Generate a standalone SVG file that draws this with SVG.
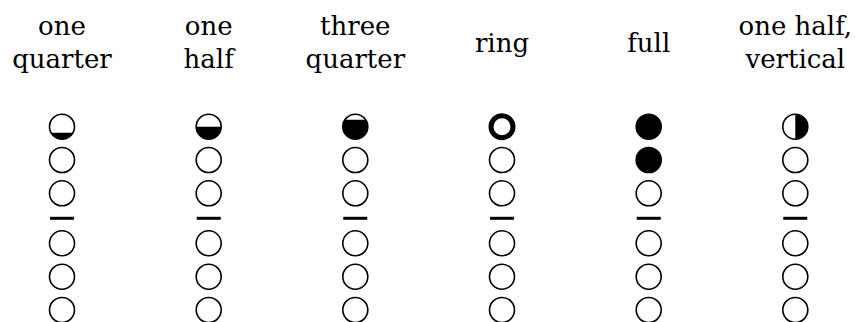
<svg xmlns="http://www.w3.org/2000/svg" xmlns:xlink="http://www.w3.org/1999/xlink" width="855" height="322" viewBox="0 0 855 322">
<style>
text{font-family:"DejaVu Serif","Liberation Serif",serif;font-size:26px;fill:#000;text-anchor:middle}
.h{fill:#fff;stroke:#000;stroke-width:1.6}
.hf{fill:#000;stroke:#000;stroke-width:1.6}
.fill{fill:#000}
.ring{fill:#fff;stroke:#000;stroke-width:5}
.bar{fill:#000}
</style>
<defs>
<circle id="hole" class="h" r="12.5"/>
<g id="lower">
<use href="#hole" y="160"/>
<use href="#hole" y="193.3"/>
<rect class="bar" x="-12" y="216.8" width="24" height="3"/>
<use href="#hole" y="243.3"/>
<use href="#hole" y="276.7"/>
<use href="#hole" y="310"/>
</g>
</defs>
<rect width="855" height="322" fill="#fff"/>
<g id="col-one-quarter" transform="translate(62,0)">
<text x="0" y="35">one</text>
<text x="0" y="68">quarter</text>
<use href="#hole" y="126.7"/>
<path class="fill" d="M-10.97,132.7 A12.5,12.5 0 0 0 10.97,132.7 Z"/>
<use href="#lower"/>
</g>
<g id="col-one-half" transform="translate(208.7,0)">
<text x="0" y="35">one</text>
<text x="0" y="68">half</text>
<use href="#hole" y="126.7"/>
<path class="fill" d="M-12.5,126.7 A12.5,12.5 0 0 0 12.5,126.7 Z"/>
<use href="#lower"/>
</g>
<g id="col-three-quarter" transform="translate(355.3,0)">
<text x="0" y="35">three</text>
<text x="0" y="68">quarter</text>
<use href="#hole" y="126.7"/>
<path class="fill" d="M-10.36,119.7 A12.5,12.5 0 1 0 10.36,119.7 Z"/>
<use href="#lower"/>
</g>
<g id="col-ring" transform="translate(502,0)">
<text x="0" y="51.5">ring</text>
<circle class="ring" cx="0" cy="126.7" r="11"/>
<use href="#lower"/>
</g>
<g id="col-full" transform="translate(648.7,0)">
<text x="0" y="51.5">full</text>
<circle class="hf" cx="0" cy="126.7" r="12.5"/>
<circle class="hf" cx="0" cy="160" r="12.5"/>
<use href="#hole" y="193.3"/>
<rect class="bar" x="-12" y="216.8" width="24" height="3"/>
<use href="#hole" y="243.3"/>
<use href="#hole" y="276.7"/>
<use href="#hole" y="310"/>
</g>
<g id="col-one-half-vertical" transform="translate(795.3,0)">
<text x="0" y="35">one half,</text>
<text x="0" y="68">vertical</text>
<use href="#hole" y="126.7"/>
<path class="fill" d="M0,114.2 A12.5,12.5 0 0 1 0,139.2 Z"/>
<use href="#lower"/>
</g>
<g id="connectors"/>
</svg>
